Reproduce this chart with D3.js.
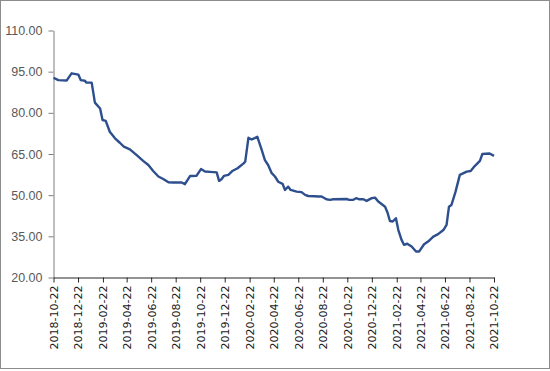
<html>
<head>
<script src="https://d3js.org/d3.v7.min.js"></script>
<style>
body { margin: 0; background: #fff; }
svg { display: block; }
</style>
</head>
<body>
<svg width="550" height="371"></svg>
<script>
// series (irregular sampling of a weekly price)
var dates = ["2018-10-22","2018-11-03","2018-11-24","2018-12-06","2018-12-23","2018-12-29","2019-01-08","2019-01-12","2019-01-25",
  "2019-02-02","2019-02-15","2019-02-21","2019-03-01","2019-03-11","2019-03-24","2019-04-05","2019-04-15","2019-04-30",
  "2019-05-17","2019-06-02","2019-06-15","2019-06-27","2019-07-10","2019-07-22","2019-08-04","2019-08-16","2019-09-06",
  "2019-09-14","2019-09-27","2019-10-13","2019-10-24","2019-11-03","2019-11-15","2019-12-02","2019-12-08","2019-12-14",
  "2019-12-20","2019-12-31","2020-01-11","2020-01-23","2020-02-07","2020-02-11","2020-02-19","2020-02-27","2020-03-06",
  "2020-03-12","2020-03-23","2020-03-31","2020-04-08","2020-04-17","2020-04-25","2020-05-03","2020-05-14","2020-05-20",
  "2020-05-28","2020-06-03","2020-06-18","2020-06-30","2020-07-09","2020-07-17","2020-08-02","2020-08-11","2020-08-19",
  "2020-08-31","2020-09-09","2020-09-17","2020-10-20","2020-10-27","2020-11-06","2020-11-13","2020-11-21","2020-12-01",
  "2020-12-09","2020-12-22","2020-12-30","2021-01-07","2021-01-16","2021-01-24","2021-01-30","2021-02-05","2021-02-12",
  "2021-02-20","2021-02-26","2021-03-06","2021-03-12","2021-03-20","2021-03-31","2021-04-11","2021-04-19","2021-05-01",
  "2021-05-11","2021-05-24","2021-06-05","2021-06-18","2021-06-26","2021-07-02","2021-07-08","2021-07-18","2021-07-29",
  "2021-08-15","2021-08-25","2021-09-04","2021-09-17","2021-09-23","2021-10-11","2021-10-22"];
var values = [92.8,91.9,91.8,94.4,93.9,91.9,91.7,91.0,91.0,
  83.7,81.6,77.4,77.1,73.1,70.7,69.1,67.7,66.7,
  64.6,62.5,61.0,58.8,56.8,55.9,54.7,54.6,54.6,
  54.0,57.0,57.1,59.5,58.6,58.5,58.3,55.2,55.8,
  57.0,57.4,58.9,59.8,61.6,62.2,70.9,70.3,70.8,
  71.3,66.5,62.8,61.0,58.0,56.8,54.9,54.1,51.9,
  53.1,51.9,51.3,51.1,50.1,49.7,49.6,49.5,49.5,
  48.5,48.3,48.5,48.6,48.3,48.3,48.9,48.5,48.5,
  47.9,48.9,49.1,47.7,46.7,45.8,43.7,40.6,40.4,
  41.6,37.3,33.7,31.9,32.3,31.3,29.5,29.5,32.1,
  33.1,34.9,35.8,37.3,39.2,45.8,46.4,51.1,57.4,
  58.6,58.8,60.6,62.5,65.0,65.2,64.3];
var yTicks = [20, 35, 50, 65, 80, 95, 110];
var xTickLabels = ["2018-10-22","2018-12-22","2019-02-22","2019-04-22","2019-06-22","2019-08-22","2019-10-22",
  "2019-12-22","2020-02-22","2020-04-22","2020-06-22","2020-08-22","2020-10-22","2020-12-22",
  "2021-02-22","2021-04-22","2021-06-22","2021-08-22","2021-10-22"];

var parse = d3.timeParse("%Y-%m-%d");
var data = dates.map(function (d, i) { return { date: parse(d), value: values[i] }; });

var svg = d3.select("svg");
// plot box (can't call it "top": that name belongs to window)
var plotLeft = 53.5, plotRight = 494, plotTop = 30.5, plotBottom = 277.5;

// frame round the picture
svg.append("rect")
  .attr("x", 0.5).attr("y", 0.5).attr("width", 549).attr("height", 368)
  .attr("fill", "none").attr("stroke", "#8c8c8c");

var x = d3.scaleTime()
  .domain([parse("2018-10-22"), parse("2021-10-22")])
  .range([plotLeft, plotRight]);
var y = d3.scaleLinear().domain([20, 110]).range([plotBottom, plotTop]);

var yAxis = svg.append("g")
  .attr("transform", "translate(" + plotLeft + ",0)")
  .call(d3.axisLeft(y).tickValues(yTicks).tickSize(5).tickSizeOuter(0).tickPadding(6)
    .tickFormat(d3.format(".2f")));
yAxis.select(".domain").attr("stroke", "#7f7f7f");
yAxis.selectAll(".tick line").attr("stroke", "#7f7f7f");
yAxis.selectAll("text")
  .attr("fill", "#595959")
  .style("font-family", "'Liberation Sans', Arial, sans-serif")
  .style("font-size", "12.5px");

var xAxis = svg.append("g")
  .attr("transform", "translate(0," + plotBottom + ")")
  .call(d3.axisBottom(x).tickValues(xTickLabels.map(parse)).tickSize(5).tickSizeOuter(0)
    .tickFormat(d3.timeFormat("%Y-%m-%d")));
xAxis.select(".domain").attr("stroke", "#262626");
xAxis.selectAll(".tick line").attr("stroke", "#262626");
xAxis.selectAll("text")
  .attr("fill", "#1a1a1a")
  .attr("transform", "rotate(-90)")
  .attr("x", -8).attr("y", 0).attr("dy", "0.35em")
  .style("text-anchor", "end")
  .style("font-family", "'DejaVu Sans', Verdana, sans-serif")
  .style("font-size", "11px");

var line = d3.line()
  .x(function (d) { return x(d.date); })
  .y(function (d) { return y(d.value); });

svg.append("path")
  .datum(data)
  .attr("d", line)
  .attr("fill", "none")
  .attr("stroke", "#2e4f8e")
  .attr("stroke-width", 2.4)
  .attr("stroke-linejoin", "round");
</script>
</body>
</html>
